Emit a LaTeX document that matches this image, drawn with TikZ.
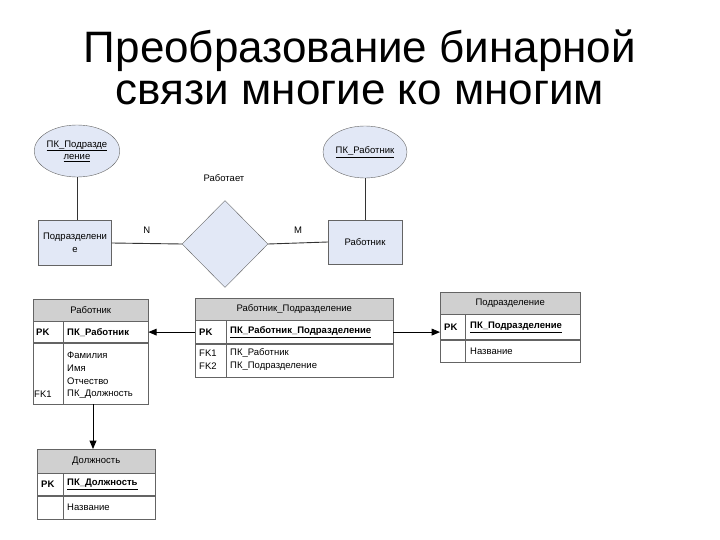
\documentclass[tikz,border=0pt]{standalone}
\usepackage{fontspec}
\setmainfont{Liberation Sans}
\usetikzlibrary{arrows,calc,positioning,shapes.geometric}

\definecolor{entfill}{RGB}{226,232,246}
\definecolor{headfill}{RGB}{208,208,208}
\definecolor{edgegray}{RGB}{100,100,100}

\tikzset{
  small/.style={font=\fontsize{9.5}{11}\selectfont},
  entity/.style={draw=edgegray, fill=entfill, small, align=center, inner sep=0pt},
  attrib/.style={ellipse, draw=edgegray, fill=entfill, small, align=center, inner sep=0pt},
  relship/.style={diamond, draw=edgegray, fill=entfill, inner sep=0pt},
  tblhead/.style={draw=edgegray, fill=headfill, small, anchor=north west, inner sep=0pt},
  tblrow/.style={draw=edgegray, fill=white, anchor=north west, inner sep=0pt},
  cell/.style={small, anchor=west, inner sep=0pt},
  link/.style={draw=black!80, line width=0.9pt},
  fk/.style={draw=black, line width=0.9pt, -triangle 45}
}

\begin{document}
\begin{tikzpicture}[x=1pt, y=-1pt]
\useasboundingbox (0,0) rectangle (720,540);

% title
\node[font=\fontsize{44}{44}\selectfont, anchor=base] (title1) at (360,63) {Преобразование бинарной};
\node[font=\fontsize{44}{44}\selectfont, anchor=base] (title2) at (360,105) {связи многие ко многим};

% ER part
\node[attrib, minimum width=80pt, minimum height=52pt] (podrkey) at (77,151)
  {\underline{ПК\_Подразде}\\[1pt]\underline{ление}};
\node[attrib, minimum width=84pt, minimum height=52pt] (rabkey) at (365,152)
  {\underline{ПК\_Работник}};

\node[entity, minimum width=73pt, minimum height=45pt] (podr) at (75,243)
  {Подразделени\\[2pt]е};
\node[entity, minimum width=74pt, minimum height=44pt] (rab) at (365,242) {Работник};

\node[relship, minimum width=86pt, minimum height=87pt] (works) at (225,244) {};
\node[small] (worksname) at (224,178) {Работает};

\draw[link] (podrkey.south) -- (podr.north -| podrkey.south);
\draw[link] (rabkey.south) -- (rab.north -| rabkey.south);
\draw[link] (podr.east) -- node[small, above=6pt] (n) {N} (works.west);
\draw[link] (works.east) -- node[small, above=6pt] (m) {M} (rab.west);

% table Работник
\node[tblhead, minimum width=115pt, minimum height=22pt] (t1h) at (33,299) {Работник};
\node[tblrow, minimum width=115pt, minimum height=21pt] (t1pk) at (t1h.south west) {};
\node[tblrow, minimum width=115pt, minimum height=61pt] (t1b) at (t1pk.south west) {};
\draw[draw=edgegray] ($(t1pk.north west)+(30,0)$) -- ($(t1b.south west)+(30,0)$);
\node[cell, font=\fontsize{9.5}{11}\selectfont\bfseries] at ($(t1pk.west)+(3,0)$) {PK};
\node[cell, font=\fontsize{9.5}{11}\selectfont\bfseries] at ($(t1pk.west)+(34,0)$) {ПК\_Работник};
\node[cell] at (67,355) {Фамилия};
\node[cell] at (67,368) {Имя};
\node[cell] at (67,381) {Отчество};
\node[cell] at (67,394) {ПК\_Должность};
\node[cell] at (34,394) {FK1};

% table Работник_Подразделение
\node[tblhead, minimum width=198pt, minimum height=22pt] (t2h) at (195,298) {Работник\_Подразделение};
\node[tblrow, minimum width=198pt, minimum height=23pt] (t2pk) at (t2h.south west) {};
\node[tblrow, minimum width=198pt, minimum height=33pt] (t2b) at (t2pk.south west) {};
\draw[draw=edgegray] ($(t2pk.north west)+(31,0)$) -- ($(t2b.south west)+(31,0)$);
\node[cell, font=\fontsize{9.5}{11}\selectfont\bfseries] at ($(t2pk.west)+(4,0)$) {PK};
\node[cell, font=\fontsize{9.5}{11}\selectfont\bfseries] at ($(t2pk.west)+(35,0)$) {\underline{ПК\_Работник\_Подразделение}};
\node[cell] at (199,353) {FK1};
\node[cell] at (199,366) {FK2};
\node[cell] at (230,353) {ПК\_Работник};
\node[cell] at (230,366) {ПК\_Подразделение};

% table Подразделение
\node[tblhead, minimum width=140pt, minimum height=22pt] (t3h) at (440,292) {Подразделение};
\node[tblrow, minimum width=140pt, minimum height=25pt] (t3pk) at (t3h.south west) {};
\node[tblrow, minimum width=140pt, minimum height=22pt] (t3b) at (t3pk.south west) {};
\draw[draw=edgegray] ($(t3pk.north west)+(25,0)$) -- ($(t3b.south west)+(25,0)$);
\node[cell, font=\fontsize{9.5}{11}\selectfont\bfseries] at ($(t3pk.west)+(4,0)$) {PK};
\node[cell, font=\fontsize{9.5}{11}\selectfont\bfseries] at ($(t3pk.west)+(30,0)$) {\underline{ПК\_Подразделение}};
\node[cell] at ($(t3b.west)+(30,0)$) {Название};

% table Должность
\node[tblhead, minimum width=118pt, minimum height=24pt] (t4h) at (37,449) {Должность};
\node[tblrow, minimum width=118pt, minimum height=22pt] (t4pk) at (t4h.south west) {};
\node[tblrow, minimum width=118pt, minimum height=23pt] (t4b) at (t4pk.south west) {};
\draw[draw=edgegray] ($(t4pk.north west)+(26,0)$) -- ($(t4b.south west)+(26,0)$);
\node[cell, font=\fontsize{9.5}{11}\selectfont\bfseries] at ($(t4pk.west)+(4,0)$) {PK};
\node[cell, font=\fontsize{9.5}{11}\selectfont\bfseries] at ($(t4pk.west)+(30,0)$) {\underline{ПК\_Должность}};
\node[cell] at ($(t4b.west)+(30,0)$) {Название};

% foreign keys
\draw[fk] (t2pk.west) -- (t2pk.west -| t1pk.east);
\draw[fk] (t2pk.east) -- (t2pk.east -| t3pk.west);
\draw[fk] (t1b.south -| 93,0) -- (t4h.north -| 93,0);

\end{tikzpicture}
\end{document}
